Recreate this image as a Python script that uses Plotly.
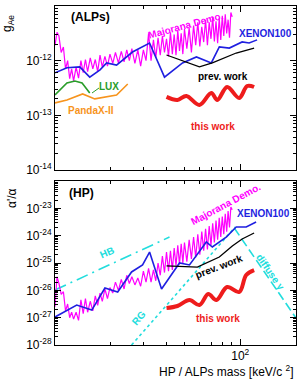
import plotly.graph_objects as go

# ---------------- data ----------------
# Majorana Demonstrator (jagged) - mass grid shared by both panels
maj_mass = [10.0, 10.25, 10.5, 10.8, 11.1, 11.4, 11.7, 12.0, 12.3, 12.6,
            13.0, 13.4, 13.8, 14.2, 14.6, 15.0, 15.5, 16.0, 16.5, 17.0,
            17.5, 18.0, 18.6, 19.2, 19.8, 20.5, 21.2, 22.0, 22.8, 23.6,
            24.4, 25.2, 26.0, 27.0, 28.0, 29.0,
            30.0, 31.0, 32.0, 33.0, 34.0, 35.0, 36.0, 37.0, 38.0, 39.0, 40.0,
            41.0, 42.0, 43.0, 44.0, 45.0, 46.0, 47.0, 48.0, 49.0, 50.0,
            51.5, 53.0, 54.5, 56.0, 57.5, 59.0, 60.5, 62.0, 63.5, 65.0, 66.5,
            68.0, 69.5, 71.0, 72.5, 74.0, 75.5, 77.0, 78.5, 80.0, 81.5, 83.0,
            84.5, 86.0, 87.5, 89.0, 90.5]
maj_gae = [1.91e-12, 3.31e-12, 2.82e-12, 1.41e-12, 1.78e-12, 7.08e-13, 1.0e-12, 4.68e-13, 7.08e-13, 4.27e-13,
           7.59e-13, 4.79e-13, 1.0e-12, 6.03e-13, 1.05e-12, 6.31e-13, 1.12e-12, 7.08e-13, 1.05e-12, 6.31e-13,
           1.26e-12, 7.59e-13, 1.2e-12, 7.94e-13, 1.32e-12, 8.91e-13, 1.41e-12, 9.12e-13, 1.48e-12, 9.55e-13,
           1.58e-12, 1.0e-12, 1.66e-12, 8.91e-13, 1.58e-12, 7.94e-13,
           1.58e-12, 1.0e-12, 3.16e-12, 1.0e-12, 2.4e-12, 1.12e-12, 2.63e-12, 1.26e-12, 2.82e-12, 1.41e-12, 2.51e-12,
           1.2e-12, 3.31e-12, 1.32e-12, 3.02e-12, 1.26e-12, 3.55e-12, 1.51e-12, 3.16e-12, 1.32e-12, 3.8e-12,
           1.66e-12, 3.98e-12, 1.41e-12, 4.37e-12, 1.91e-12, 5.01e-12, 1.82e-12, 4.17e-12, 2.19e-12, 5.62e-12, 1.91e-12,
           5.01e-12, 2.51e-12, 6.31e-12, 2.24e-12, 5.25e-12, 2.09e-12, 6.03e-12, 2.4e-12, 6.61e-12, 2.82e-12, 7.08e-12,
           3.16e-12, 5.62e-12, 2.63e-12, 7.59e-12, 6.31e-12]
maj_hp = [2.51e-27, 3.16e-26, 1.78e-26, 7.08e-27, 8.91e-27, 1.78e-27, 3.16e-27, 1.0e-27, 1.58e-27, 8.91e-28,
          1.58e-27, 7.94e-28, 4.47e-27, 1.41e-27, 5.01e-27, 1.58e-27, 3.98e-27, 1.78e-27, 6.31e-27, 2.82e-27,
          7.94e-27, 3.98e-27, 1.12e-26, 5.01e-27, 1.26e-26, 7.94e-27, 2.0e-26, 1.0e-26, 2.51e-26, 1.12e-26,
          3.55e-26, 1.78e-26, 3.16e-26, 1.58e-26, 2.82e-26, 1.41e-26,
          5.01e-26, 2.0e-26, 6.31e-26, 2.0e-26, 5.62e-26, 2.24e-26, 1.0e-25, 3.55e-26, 1.78e-25, 4.47e-26, 2.51e-25,
          5.01e-26, 2.82e-25, 5.62e-26, 3.55e-25, 7.94e-26, 4.47e-25, 8.91e-26, 5.01e-25, 1.0e-25, 5.62e-25,
          1.12e-25, 7.08e-25, 1.41e-25, 8.91e-25, 1.58e-25, 1.12e-24, 2.0e-25, 1.41e-24, 2.82e-25, 1.78e-24, 3.16e-25,
          2.24e-24, 4.47e-25, 2.82e-24, 5.62e-25, 3.55e-24, 7.08e-25, 4.47e-24, 8.91e-25, 5.01e-24, 1.12e-24, 6.31e-24,
          1.41e-24, 7.94e-24, 2.0e-24, 1.12e-23, 8.91e-24]
assert len(maj_mass) == len(maj_gae) == len(maj_hp)

# XENON100
xe_mass_top = [10.0, 11.6, 13.6, 15.4, 17.5, 19.0, 21.5, 26.2, 32.4, 39.0, 48.8, 58.0, 69.8, 77.1, 87.3, 102.4, 111.7, 123.3]
xe_gae = [6.0e-13, 7.4e-13, 7.7e-13, 5.0e-13, 6.8e-13, 9.1e-13, 8.3e-13, 1.44e-12, 2.1e-12, 5.0e-13,
          9.1e-13, 1.17e-12, 9.1e-13, 1.78e-12, 1.7e-12, 2.2e-12, 2.1e-12, 2.4e-12]
xe_mass_bot = [10.0, 13.1, 15.8, 18.6, 21.8, 25.9, 29.7, 32.4, 37.6, 47.0, 53.2, 65.6, 70.7, 84.0, 95.1, 107.7, 121.8]
xe_hp = [1.06e-27, 2.9e-27, 1.9e-27, 1.22e-26, 8.7e-27, 4.7e-26, 8.5e-26, 2.5e-25, 1.12e-26, 1.0e-25,
         8.5e-26, 5.9e-25, 3.85e-25, 8.9e-25, 2.07e-24, 2.07e-24, 3.16e-24]

# previous XMASS work
prev_mass_top = [40.0, 53.2, 60.2, 70.7, 95.1, 118.8]
prev_gae = [1.27e-12, 9.1e-13, 7.7e-13, 9.1e-13, 1.38e-12, 1.7e-12]
prev_mass_bot = [40.0, 58.7, 77.1, 90.6, 102.4, 118.8]
prev_hp = [7.8e-26, 7.1e-26, 1.66e-25, 4.2e-25, 7.55e-25, 1.25e-24]

# this work
this_mass_top = [40.0, 45.8, 51.2, 60.2, 69.8, 75.2, 85.0, 98.7, 109.0, 118.8]
this_gae = [2.17e-13, 1.91e-13, 2.26e-13, 1.55e-13, 2.57e-13, 1.91e-13, 3.3e-13, 2.08e-13, 3.44e-13, 3.3e-13]
this_mass_bot = [40.0, 45.8, 53.2, 60.2, 67.2, 74.3, 85.0, 98.7, 107.7, 118.8]
this_hp = [2.25e-27, 2.67e-27, 4.4e-27, 2.9e-27, 7.3e-27, 4.4e-27, 1.32e-26, 8.7e-27, 3.64e-26, 5.5e-26]

# LUX and PandaX-II (ALPs only)
lux_mass = [10.0, 10.64, 11.6, 12.8, 14.0, 15.4]
lux_gae = [2.36e-13, 2.9e-13, 3.9e-13, 4.25e-13, 3.9e-13, 2.57e-13]
pandax_mass = [10.0, 11.6, 14.1, 16.4, 21.5, 24.7]
pandax_gae = [1.69e-13, 1.91e-13, 2.46e-13, 2.0e-13, 2.36e-13, 3.75e-13]

# astrophysical constraints (HP)
hb_mass = [10.0, 41.5]
hb_hp = [1.03e-26, 8.9e-25]
rg_mass = [25.9, 93.9]
rg_hp = [1.0e-28, 2.07e-24]
dg_mass = [92.8, 200.0]
dg_hp = [1.91e-24, 9.7e-28]

# axis ticks
x_major = [100]
x_major_text = ["10<sup>2</sup>"]
x_minor = [20, 30, 40, 50, 60, 70, 80, 90]
top_major = [1e-14, 1e-13, 1e-12, 1e-11]
top_major_text = ["10<sup>-14</sup>", "10<sup>-13</sup>", "10<sup>-12</sup>", "10<sup>-11</sup>"]
bot_major = [1e-28, 1e-27, 1e-26, 1e-25, 1e-24, 1e-23]
bot_major_text = ["10<sup>-28</sup>", "10<sup>-27</sup>", "10<sup>-26</sup>", "10<sup>-25</sup>",
                  "10<sup>-24</sup>", "10<sup>-23</sup>"]

# ---------------- styles ----------------
MAG = "#ff00ff"
BLUE = "#1f1fe0"
RED = "#ee1c1c"
GREEN = "#2a9d2a"
ORANGE = "#f7941d"
CYAN = "#22dddd"
FONT = "Liberation Sans, Arial, Helvetica, sans-serif"

W, H = 297, 379
ML, MR, MT, MB = 55, 1, 6, 34
PW = W - ML - MR
PH = H - MT - MB


def px(x):
    return (x - ML) / PW


def py(y):
    return (H - MB - y) / PH


fig = go.Figure()


def line(xs, ys, color, width, axis, dash="solid", shape="linear"):
    fig.add_trace(go.Scatter(x=xs, y=ys, mode="lines",
                             line=dict(color=color, width=width, dash=dash, shape=shape),
                             xaxis="x" if axis == 1 else "x2",
                             yaxis="y" if axis == 1 else "y2",
                             showlegend=False, hoverinfo="skip"))


# top panel (ALPs)
line(maj_mass, maj_gae, MAG, 1.2, 1)
line(lux_mass, lux_gae, GREEN, 1.6, 1)
line(pandax_mass, pandax_gae, ORANGE, 1.6, 1)
line(xe_mass_top, xe_gae, BLUE, 1.6, 1)
line(prev_mass_top, prev_gae, "black", 1.3, 1)
line(this_mass_top, this_gae, RED, 4, 1, shape="spline")

# bottom panel (HP)
line(hb_mass, hb_hp, CYAN, 1.6, 2, dash="12px,5px,2px,5px")
line(rg_mass, rg_hp, CYAN, 1.6, 2, dash="dot")
line(dg_mass, dg_hp, CYAN, 1.6, 2, dash="9px,4px")
line(maj_mass, maj_hp, MAG, 1.2, 2)
line(xe_mass_bot, xe_hp, BLUE, 1.6, 2)
line(prev_mass_bot, prev_hp, "black", 1.3, 2)
line(this_mass_bot, this_hp, RED, 4, 2, shape="spline")

top_dom = [py(170), 1]
bot_dom = [0, py(181)]

tickfont = dict(family=FONT, size=12, color="black")
common_x = dict(type="log", range=[1, 2.30103], ticks="inside", ticklen=6, tickwidth=1,
                tickcolor="black", showline=True, linecolor="black", linewidth=1,
                mirror="ticks", showgrid=False, zeroline=False,
                tickmode="array", tickvals=x_major, ticktext=x_major_text, tickfont=tickfont,
                minor=dict(tickmode="array", tickvals=x_minor, ticks="inside", ticklen=3,
                           tickcolor="black", tickwidth=1, showgrid=False))
common_y = dict(type="log", ticks="inside", ticklen=6, tickwidth=1, tickcolor="black",
                showline=True, linecolor="black", linewidth=1, mirror="ticks",
                showgrid=False, zeroline=False, tickfont=tickfont, tickmode="array")

top_minor = [m * 10.0 ** e for e in range(-14, -11) for m in range(2, 10)]
bot_minor = [m * 10.0 ** e for e in range(-28, -22) for m in range(2, 10)]

fig.update_layout(
    width=W, height=H,
    margin=dict(l=ML, r=MR, t=MT, b=MB, pad=0),
    paper_bgcolor="white", plot_bgcolor="white",
    font=dict(family=FONT, size=11, color="black"),
    showlegend=False,
    xaxis=dict(common_x, domain=[0, 1], anchor="y", showticklabels=False),
    xaxis2=dict(common_x, domain=[0, 1], anchor="y2"),
    yaxis=dict(common_y, domain=top_dom, anchor="x", range=[-14, -11],
               tickvals=top_major, ticktext=top_major_text,
               minor=dict(tickmode="array", tickvals=top_minor, ticks="inside", ticklen=3,
                          tickcolor="black", tickwidth=1, showgrid=False)),
    yaxis2=dict(common_y, domain=bot_dom, anchor="x2", range=[-28, -22],
                tickvals=bot_major, ticktext=bot_major_text,
                minor=dict(tickmode="array", tickvals=bot_minor, ticks="inside", ticklen=3,
                           tickcolor="black", tickwidth=1, showgrid=False)),
)


def label(text, x, y, color="black", size=10, angle=0, bold=True, xanchor="center"):
    fig.add_annotation(text=("<b>%s</b>" % text) if bold else text,
                       x=px(x), y=py(y), xref="paper", yref="paper",
                       xanchor=xanchor, yanchor="middle", textangle=angle,
                       showarrow=False, font=dict(family=FONT, size=size, color=color))


# top panel labels
label("(ALPs)", 69, 17, size=12, xanchor="left")
label("Majorana Demo.", 185, 25, MAG, 10, -15)
label("XENON100", 265, 33, BLUE, 10)
label("prev. work", 223, 76, "black", 10)
label("this work", 213, 126, RED, 10)
label("LUX", 109, 86, GREEN, 10)
label("PandaX-II", 91, 110, ORANGE, 10)

# bottom panel labels
label("(HP)", 67, 193, size=12, xanchor="left")
label("Majorana Demo.", 225, 204, MAG, 10, -28)
label("XENON100", 263, 213, BLUE, 10)
label("prev. work", 219, 266, "black", 10, -21)
label("this work", 218, 318, RED, 10)
label("HB", 107, 253, CYAN, 10, -24)
label("RG", 138, 318, CYAN, 10, -50)
label("diffuse γ", 271, 272, CYAN, 10, 55)

# axis titles
label("g<sub>Ae</sub>", 8, 24, size=12, angle=-90, bold=False)
label("α'/α", 12, 198, size=12, angle=-90, bold=False)
fig.add_annotation(text="HP / ALPs mass [keV/c <sup>2</sup>]", x=1.0, y=py(371),
                   xref="paper", yref="paper", xanchor="right", yanchor="middle",
                   showarrow=False, font=dict(family=FONT, size=12, color="black"))

# LUX label connector
fig.add_shape(type="line", xref="paper", yref="paper",
              x0=px(92), y0=py(93), x1=px(99), y1=py(88),
              line=dict(color=GREEN, width=1))

fig.write_html("out.html")
